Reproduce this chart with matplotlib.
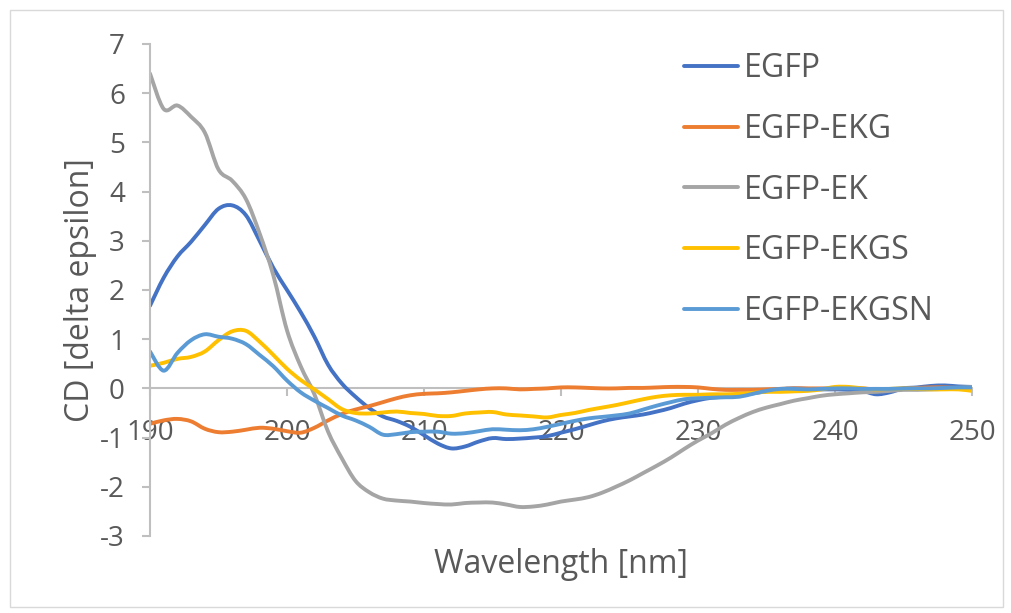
import numpy as np
import matplotlib
matplotlib.use("Agg")
import matplotlib.pyplot as plt
from matplotlib.patches import Rectangle, PathPatch
from matplotlib.path import Path
from matplotlib.lines import Line2D

# Wavelength grid (nm)
wavelength = np.arange(190, 251, 1)

egfp = [1.68, 2.25, 2.68, 2.98, 3.32, 3.65, 3.72, 3.52, 3.00, 2.45,
        2.00, 1.55, 1.05, 0.48, 0.10, -0.17, -0.40, -0.57, -0.66, -0.78,
        -0.95, -1.12, -1.22, -1.18, -1.08, -1.01, -1.03, -1.02, -1.00, -0.97,
        -0.90, -0.83, -0.75, -0.67, -0.61, -0.57, -0.53, -0.47, -0.40, -0.31,
        -0.24, -0.19, -0.17, -0.15, -0.10, -0.06, -0.02, 0.00, -0.01, -0.02,
        -0.02, -0.03, -0.05, -0.12, -0.08, 0.00, 0.02, 0.05, 0.06, 0.04,
        0.03]

egfp_ekg = [-0.72, -0.65, -0.62, -0.67, -0.82, -0.89, -0.88, -0.84, -0.80, -0.82,
            -0.87, -0.90, -0.80, -0.65, -0.52, -0.43, -0.36, -0.28, -0.20, -0.14,
            -0.11, -0.10, -0.08, -0.05, -0.02, 0.00, 0.00, -0.02, -0.01, 0.00,
            0.02, 0.02, 0.01, 0.00, 0.00, 0.01, 0.01, 0.02, 0.03, 0.03,
            0.02, -0.01, -0.03, -0.03, -0.03, -0.02, -0.01, 0.00, 0.00, 0.00,
            0.00, 0.01, 0.00, -0.02, -0.02, 0.00, 0.01, 0.02, 0.02, 0.01,
            0.02]

egfp_ek = [6.40, 5.68, 5.75, 5.52, 5.20, 4.45, 4.22, 3.85, 3.15, 2.30,
           1.18, 0.45, -0.12, -0.88, -1.42, -1.88, -2.11, -2.24, -2.28, -2.30,
           -2.33, -2.35, -2.36, -2.33, -2.32, -2.32, -2.36, -2.41, -2.40, -2.36,
           -2.30, -2.26, -2.21, -2.12, -2.00, -1.87, -1.72, -1.57, -1.41, -1.23,
           -1.06, -0.91, -0.74, -0.60, -0.48, -0.39, -0.32, -0.25, -0.20, -0.15,
           -0.12, -0.10, -0.08, -0.07, -0.05, -0.03, -0.03, -0.02, -0.01, 0.01,
           0.03]

egfp_ekgs = [0.46, 0.52, 0.60, 0.64, 0.75, 0.98, 1.16, 1.17, 0.95, 0.68,
             0.40, 0.17, -0.02, -0.22, -0.42, -0.50, -0.51, -0.49, -0.47, -0.50,
             -0.52, -0.56, -0.56, -0.51, -0.49, -0.48, -0.53, -0.55, -0.57, -0.59,
             -0.54, -0.50, -0.44, -0.39, -0.34, -0.28, -0.22, -0.17, -0.14, -0.13,
             -0.13, -0.12, -0.12, -0.11, -0.09, -0.07, -0.07, -0.06, -0.05, -0.02,
             0.03, 0.03, 0.00, -0.02, -0.01, 0.00, -0.01, -0.02, -0.02, -0.02,
             -0.05]

egfp_ekgsn = [0.75, 0.36, 0.72, 0.98, 1.10, 1.05, 1.01, 0.90, 0.68, 0.45,
              0.16, -0.08, -0.25, -0.40, -0.55, -0.65, -0.78, -0.94, -0.93, -0.89,
              -0.88, -0.88, -0.92, -0.91, -0.87, -0.83, -0.84, -0.85, -0.83, -0.78,
              -0.72, -0.66, -0.61, -0.58, -0.55, -0.51, -0.43, -0.35, -0.28, -0.22,
              -0.20, -0.19, -0.18, -0.17, -0.11, -0.05, -0.01, -0.01, -0.02, -0.01,
              0.00, 0.00, -0.01, -0.01, -0.01, 0.00, 0.00, 0.00, 0.01, 0.02,
              0.02]

series_names = ["EGFP", "EGFP-EKG", "EGFP-EK", "EGFP-EKGS", "EGFP-EKGSN"]
series_values = [egfp, egfp_ekg, egfp_ek, egfp_ekgs, egfp_ekgsn]
series_colors = ["#4472C4", "#ED7D31", "#A5A5A5", "#FFC000", "#5B9BD5"]

x_ticks = [190, 200, 210, 220, 230, 240, 250]
y_ticks = [-3, -2, -1, 0, 1, 2, 3, 4, 5, 6, 7]

TEXT = "#595959"
AXIS = "#BFBFBF"
LW = 2.8


def smooth_path(x, y):
    """Smoothed line through the points (Catmull-Rom as cubic Bezier)."""
    p = np.column_stack([np.asarray(x, float), np.asarray(y, float)])
    ext = np.vstack([p[0], p, p[-1]])
    verts = [p[0]]
    codes = [Path.MOVETO]
    for i in range(len(p) - 1):
        p0, p1, p2, p3 = ext[i], ext[i + 1], ext[i + 2], ext[i + 3]
        c1 = p1 + (p2 - p0) / 6.0
        c2 = p2 - (p3 - p1) / 6.0
        verts += [c1, c2, p2]
        codes += [Path.CURVE4] * 3
    return Path(np.array(verts), codes)


plt.rcParams["font.family"] = ["Open Sans", "DejaVu Sans"]

W, H = 1011, 613
fig = plt.figure(figsize=(W / 100, H / 100), dpi=100)

# Chart-area border
fig.patches.append(Rectangle((10 / W, 6 / H), 993 / W, 597 / H,
                             transform=fig.transFigure, fill=False,
                             edgecolor="#D9D9D9", linewidth=1.0))

ax = fig.add_axes([150 / W, 1 - 536 / H, 822 / W, 492 / H])

handles = []
for k, (name, vals, col) in enumerate(zip(series_names, series_values, series_colors)):
    patch = PathPatch(smooth_path(wavelength, vals), facecolor="none",
                      edgecolor=col, linewidth=LW, capstyle="round",
                      joinstyle="round", transform=ax.transData, zorder=2 + k * 0.01)
    ax.add_patch(patch)
    handles.append(Line2D([], [], color=col, linewidth=LW, solid_capstyle="round",
                          label=name))

ax.set_xlim(190, 250)
ax.set_ylim(-3, 7)
ax.set_xticks(x_ticks)
ax.set_yticks(y_ticks)
ax.set_xticklabels([str(t) for t in x_ticks])
ax.set_yticklabels([str(t) for t in y_ticks])

for s in ["top", "right"]:
    ax.spines[s].set_visible(False)
ax.spines["left"].set_color(AXIS)
ax.spines["left"].set_linewidth(1.5)
ax.spines["bottom"].set_position(("data", 0))
ax.spines["bottom"].set_color(AXIS)
ax.spines["bottom"].set_linewidth(1.5)
ax.spines["bottom"].set_zorder(0.5)

ax.tick_params(axis="x", direction="out", length=6, width=1.5, color=AXIS,
               labelsize=20, labelcolor=TEXT, pad=16)
ax.tick_params(axis="y", direction="out", length=6, width=1.5, color=AXIS,
               labelsize=20, labelcolor=TEXT, pad=12)

ax.set_xlabel("Wavelength [nm]", fontsize=23, color=TEXT)
ax.xaxis.set_label_coords(0.5, -0.025)
ax.set_ylabel("CD [delta epsilon]", fontsize=23, color=TEXT)
ax.yaxis.set_label_coords(-0.065, 0.5)

leg = ax.legend(handles=handles, loc="upper left",
                bbox_to_anchor=(684 / W, 1 - 52 / H),
                bbox_transform=fig.transFigure, frameon=False, fontsize=23,
                handlelength=1.69, handletextpad=0.19, labelspacing=0.87,
                borderpad=0, borderaxespad=0)
for t in leg.get_texts():
    t.set_color(TEXT)

fig.savefig("out.png", dpi=100)
